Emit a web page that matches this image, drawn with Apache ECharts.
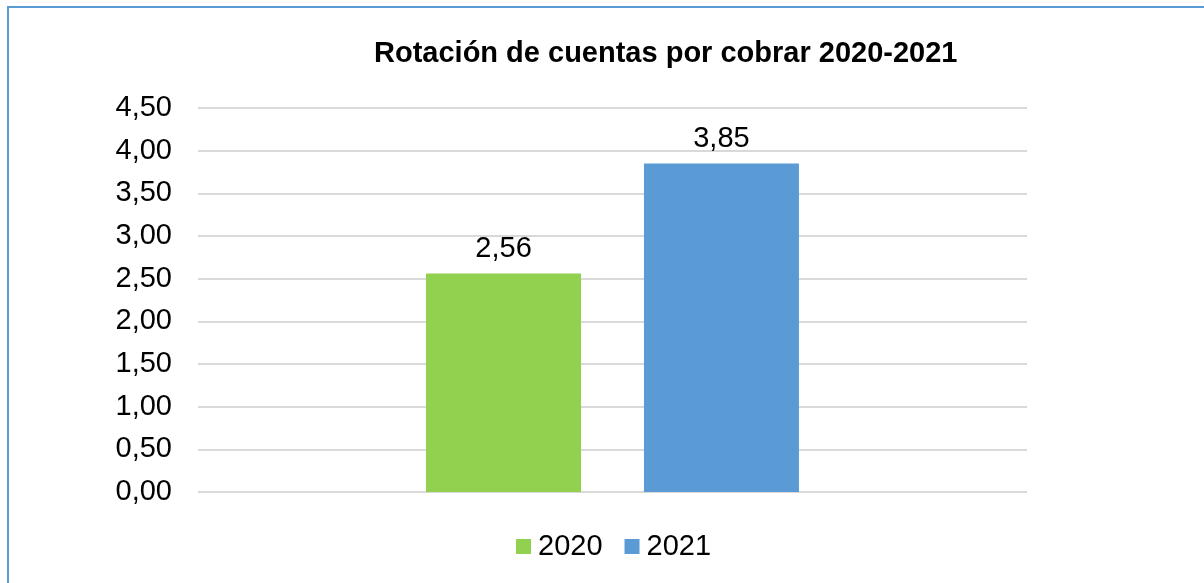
<!DOCTYPE html>
<html>
<head>
    <meta charset="utf-8">
    <title>Rotación de cuentas por cobrar</title>
    <script src="https://cdn.jsdelivr.net/npm/echarts@6/dist/echarts.min.js"></script>
    <style>
        html, body { margin: 0; padding: 0; background: #fff; }
        #frame { position: absolute; left: 7px; top: 6px; width: 1197px; height: 577px;
                 border-left: 2px solid #5b9bd5; border-top: 2px solid #5b9bd5; box-sizing: border-box; }
        #main { position: absolute; left: 0; top: 0; width: 1204px; height: 583px; }
    </style>
</head>
<body>
<div id="frame"></div>
<div id="main"></div>
<script type="text/javascript">
    // datos
    var categorias = ['Rotación'];
    var anios = ['2020', '2021'];
    var valores = [2.56, 3.85];
    var colores = ['#92d050', '#5b9bd5'];

    function coma(v) {
        return v.toFixed(2).replace('.', ',');
    }

    var series = [];
    for (var i = 0; i < anios.length; i++) {
        series.push({
            name: anios[i],
            type: 'bar',
            data: [valores[i]],
            barWidth: 155,
            barGap: '40.6%',
            itemStyle: { color: colores[i] },
            label: {
                show: true,
                position: 'top',
                distance: 10,
                color: '#000',
                fontSize: 29,
                fontFamily: 'Liberation Sans',
                formatter: function (p) { return coma(p.value); }
            }
        });
    }

    var myChart = echarts.init(document.getElementById('main'));
    var option = {
        animation: false,
        title: {
            text: 'Rotación de cuentas por cobrar 2020-2021',
            left: 369,
            top: 34,
            textStyle: { fontFamily: 'Liberation Sans', fontSize: 29, fontWeight: 'bold', color: '#000' }
        },
        legend: {
            data: anios,
            top: 527,
            left: 511,
            itemWidth: 15,
            itemHeight: 15,
            itemGap: 22,
            icon: 'rect',
            textStyle: { fontFamily: 'Liberation Sans', fontSize: 29, color: '#000', padding: [0, 0, 0, 2] }
        },
        grid: { left: 198, right: 177, top: 108, bottom: 91 },
        xAxis: {
            type: 'category',
            data: categorias,
            axisLine: { show: false },
            axisTick: { show: false },
            axisLabel: { show: false }
        },
        yAxis: {
            type: 'value',
            min: 0,
            max: 4.5,
            interval: 0.5,
            axisLine: { show: false },
            axisTick: { show: false },
            axisLabel: {
                margin: 26,
                color: '#000',
                fontSize: 29,
                fontFamily: 'Liberation Sans',
                formatter: function (v) { return coma(v); }
            },
            splitLine: { lineStyle: { color: '#d9d9d9', width: 2 } }
        },
        series: series
    };
    myChart.setOption(option);
</script>
</body>
</html>
